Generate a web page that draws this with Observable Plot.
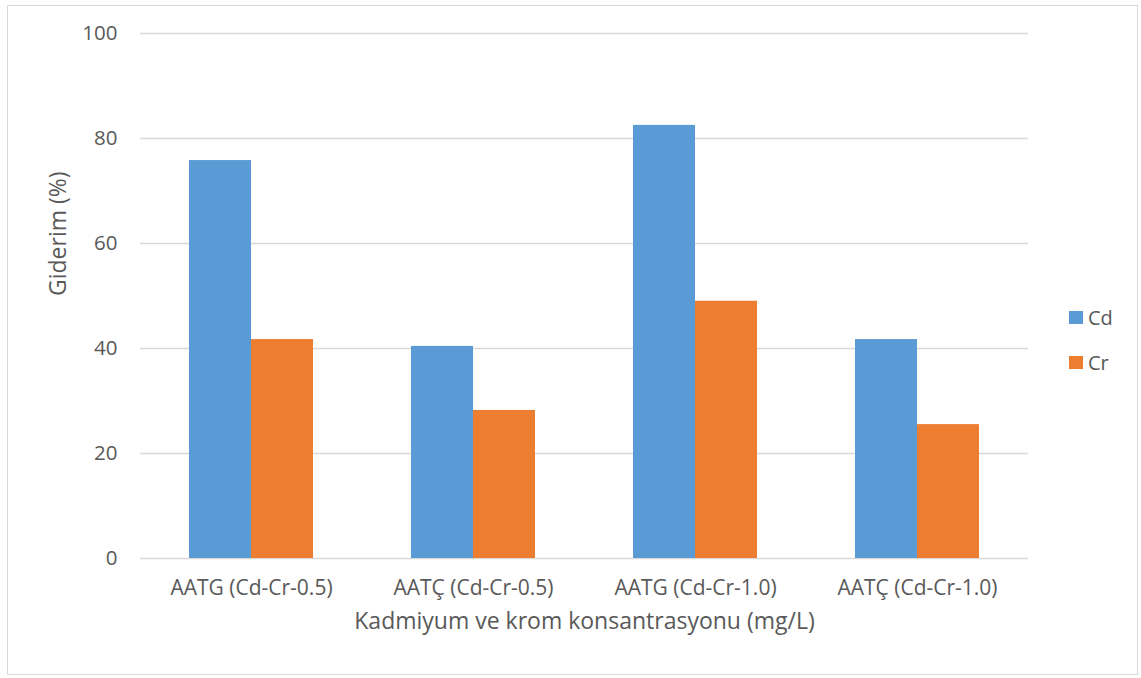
<!DOCTYPE html>
<html><head><meta charset="utf-8">
<script src="https://cdn.jsdelivr.net/npm/d3@7"></script>
<script src="https://cdn.jsdelivr.net/npm/@observablehq/plot@0.6"></script>
<style>
html,body{margin:0;padding:0;background:#fff;}
#wrap{position:relative;width:1141px;height:678px;overflow:hidden;}
#frame{position:absolute;left:7px;top:5px;width:1131px;height:670px;border:1.5px solid #d9d9d9;box-sizing:border-box;}
.leg{position:absolute;font-family:"Open Sans",sans-serif;font-size:20px;color:#595959;line-height:20px;}
.sw{position:absolute;width:14px;height:13px;}
svg text{font-family:"Open Sans",sans-serif;}
</style></head>
<body><div id="wrap"><div id="frame"></div></div>
<script>
const categories = ["AATG (Cd-Cr-0.5)", "AATÇ (Cd-Cr-0.5)", "AATG (Cd-Cr-1.0)", "AATÇ (Cd-Cr-1.0)"];
const series = ["Cd", "Cr"];
const cdValues = [75.8, 40.4, 82.5, 41.7];
const crValues = [41.7, 28.2, 49.0, 25.5];
const yTicks = [0, 20, 40, 60, 80, 100];
const colors = ["#5b9bd5", "#ed7d31"];
const yLabel = "Giderim (%)";
const xLabel = "Kadmiyum ve krom konsantrasyonu (mg/L)";

const data = [];
categories.forEach((c, i) => {
  data.push({cat: c, series: "Cd", value: cdValues[i]});
  data.push({cat: c, series: "Cr", value: crValues[i]});
});

const font = '"Open Sans", sans-serif';
const chart = Plot.plot({
  width: 1141, height: 678,
  marginLeft: 140, marginRight: 113, marginTop: 33, marginBottom: 120,
  style: {fontFamily: font, background: "transparent", color: "#595959"},
  fx: {domain: categories, padding: 0, label: null},
  x: {domain: series, paddingInner: 0, paddingOuter: 0.762, axis: null},
  y: {domain: [0, 100], ticks: yTicks, label: null, axis: null},
  color: {domain: series, range: colors},
  marks: [
    Plot.gridY(yTicks, {stroke: "#d9d9d9", strokeOpacity: 1, strokeWidth: 1.3}),
    Plot.barY(data, {fx: "cat", x: "series", y: "value", fill: "series"}),
    Plot.axisY(yTicks, {tickSize: 0, tickPadding: 23, fontSize: 20.5, fill: "#595959", label: null}),
    Plot.axisFx({anchor: "bottom", tickSize: 0, tickPadding: 22, fontSize: 21, fill: "#595959", label: null}),
    Plot.text([yLabel], {facet: "super", frameAnchor: "left", rotate: -90, dx: -82, fontSize: 23, fill: "#595959", text: d => d}),
    Plot.text([xLabel], {facet: "super", frameAnchor: "bottom", dy: 70, fontSize: 23, fill: "#595959", text: d => d})
  ]
});
chart.style.position = "absolute";
chart.style.left = "0px";
chart.style.top = "0px";
const wrap = document.getElementById("wrap");
wrap.appendChild(chart);

// legend
const legTop = [311, 356];
series.forEach((s, i) => {
  const sw = document.createElement("div");
  sw.className = "sw";
  sw.style.left = "1069px";
  sw.style.top = legTop[i] + "px";
  sw.style.background = colors[i];
  wrap.appendChild(sw);
  const t = document.createElement("div");
  t.className = "leg";
  t.style.left = "1088px";
  t.style.top = (legTop[i] - 3) + "px";
  t.textContent = s;
  wrap.appendChild(t);
});
</script>
</body></html>
